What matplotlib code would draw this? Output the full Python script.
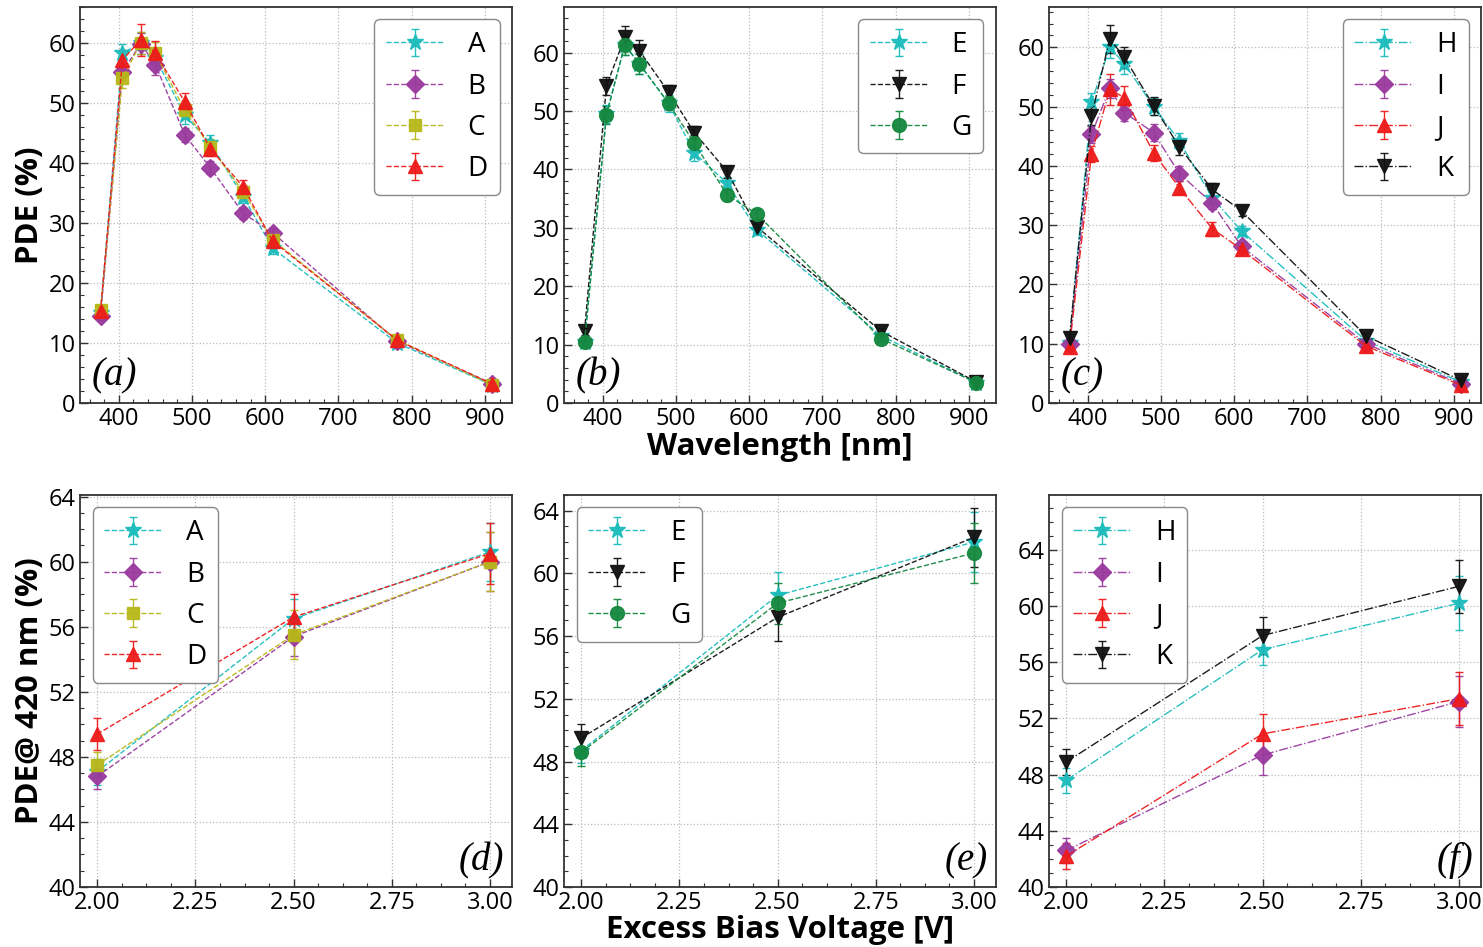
import matplotlib
matplotlib.use("Agg")
import matplotlib.pyplot as plt
from matplotlib.ticker import MultipleLocator, AutoMinorLocator, FormatStrFormatter

plt.rcParams['font.family'] = ['Open Sans', 'DejaVu Sans']

# ---------------- data ----------------
wavelength = [375, 405, 430, 450, 490, 525, 570, 610, 780, 910]

A = [15.0, 58.3, 60.0, 57.5, 48.0, 43.3, 34.4, 25.8, 10.0, 3.0]
B = [14.5, 55.2, 59.9, 56.4, 44.7, 39.2, 31.6, 28.4, 10.3, 3.2]
C = [15.5, 54.1, 60.0, 58.3, 48.8, 42.7, 35.2, 27.2, 10.5, 3.0]
D = [15.3, 57.2, 60.5, 58.3, 50.2, 42.4, 36.0, 27.0, 10.5, 3.2]
A_err = [0.8, 1.6, 1.8, 1.7, 1.5, 1.3, 1.1, 0.9, 0.5, 0.3]
B_err = [0.7, 1.5, 1.8, 1.7, 1.2, 1.1, 0.9, 0.8, 0.5, 0.3]
C_err = [0.8, 1.6, 1.8, 1.8, 1.5, 1.3, 1.1, 0.8, 0.5, 0.3]
D_err = [0.8, 1.6, 2.7, 2.0, 1.5, 1.3, 1.1, 0.8, 0.5, 0.3]

E = [10.5, 49.5, 61.3, 58.0, 51.3, 42.8, 37.6, 29.7, 11.5, 3.5]
F = [12.3, 54.3, 62.6, 60.3, 53.2, 46.3, 39.6, 30.2, 12.3, 3.6]
G = [10.4, 49.3, 61.3, 58.1, 51.3, 44.5, 35.6, 32.4, 11.0, 3.5]
E_err = [0.6, 1.5, 1.8, 1.7, 1.5, 1.3, 1.1, 0.9, 0.5, 0.3]
F_err = [0.6, 1.6, 2.0, 1.8, 1.2, 1.1, 1.0, 0.9, 0.5, 0.3]
G_err = [0.6, 1.5, 1.8, 1.7, 1.2, 1.3, 1.0, 0.9, 0.5, 0.3]

H = [10.2, 50.7, 60.0, 57.2, 50.0, 44.2, 34.6, 29.0, 10.5, 3.5]
I = [10.0, 45.3, 53.1, 49.0, 45.6, 38.7, 33.7, 26.4, 10.0, 3.2]
J = [9.5, 42.0, 52.9, 51.5, 42.2, 36.3, 29.4, 25.9, 9.6, 3.0]
K = [11.0, 48.4, 61.4, 58.3, 50.1, 43.2, 36.0, 32.4, 11.3, 3.8]
H_err = [0.6, 1.6, 1.8, 1.7, 1.5, 1.3, 1.0, 0.9, 0.5, 0.3]
I_err = [0.6, 1.4, 1.6, 1.5, 1.4, 1.2, 1.0, 0.8, 0.5, 0.3]
J_err = [0.6, 1.3, 2.6, 2.0, 1.3, 1.1, 1.2, 0.8, 0.5, 0.3]
K_err = [0.6, 1.5, 2.4, 1.8, 1.5, 1.3, 1.1, 0.9, 0.5, 0.3]

bias = [2.0, 2.5, 3.0]
A_v = [47.1, 56.5, 60.6]
B_v = [46.8, 55.4, 60.0]
C_v = [47.5, 55.5, 60.0]
D_v = [49.4, 56.6, 60.5]
A_verr = [0.8, 1.2, 1.8]
B_verr = [0.8, 1.2, 1.8]
C_verr = [0.8, 1.5, 1.8]
D_verr = [1.0, 1.4, 1.9]

E_v = [48.7, 58.6, 62.0]
F_v = [49.5, 57.2, 62.3]
G_v = [48.6, 58.1, 61.3]
E_verr = [0.8, 1.5, 1.9]
F_verr = [0.9, 1.5, 1.9]
G_verr = [0.9, 1.3, 1.9]

H_v = [47.6, 56.9, 60.2]
I_v = [42.6, 49.4, 53.2]
J_v = [42.2, 50.9, 53.4]
K_v = [48.9, 57.9, 61.4]
H_verr = [0.9, 1.1, 1.9]
I_verr = [0.9, 1.4, 1.8]
J_verr = [0.9, 1.4, 1.9]
K_verr = [0.9, 1.3, 1.9]

labels_abcd = ['A', 'B', 'C', 'D']
labels_efg = ['E', 'F', 'G']
labels_hijk = ['H', 'I', 'J', 'K']

# ---------------- styles ----------------
CYAN = '#1cbcbc'
PURP = '#9a3a9e'
OLIVE = '#b8b81a'
RED = '#ee1b1b'
BLACK = '#111111'
GREEN = '#15883e'

style = {
    'A': (CYAN, '*', 12), 'B': (PURP, 'D', 9), 'C': (OLIVE, 's', 9), 'D': (RED, '^', 10),
    'E': (CYAN, '*', 12), 'F': (BLACK, 'v', 10), 'G': (GREEN, 'o', 10),
    'H': (CYAN, '*', 12), 'I': (PURP, 'D', 9), 'J': (RED, '^', 10), 'K': (BLACK, 'v', 10),
}

W, Hh = 1483, 947
fig = plt.figure(figsize=(W / 100, Hh / 100), dpi=100)

col_left = [80, 564, 1049]
ax_w = 432
top_row = (7, 403)
bot_row = (495, 887)


def make_ax(col, row):
    t, b = row
    return fig.add_axes([col_left[col] / W, (Hh - b) / Hh, ax_w / W, (b - t) / Hh])


def draw(ax, x, series, errs, names, ls):
    for y, e, n in zip(series, errs, names):
        c, m, ms = style[n]
        ax.errorbar(x, y, yerr=e, color=c, marker=m, markersize=ms, ls=ls, lw=1.0,
                    elinewidth=1.0, capsize=3, capthick=1.0, label=n, alpha=0.95)


def finish(ax, panel, top, legloc):
    ax.grid(True, which='major', ls=':', color='#bbbbbb', lw=0.9)
    ax.set_axisbelow(True)
    ax.tick_params(which='both', direction='in', labelsize=17, color='#333333', pad=3)
    ax.tick_params(which='major', length=6, width=1.0)
    ax.tick_params(which='minor', length=3, width=0.8)
    ax.xaxis.set_minor_locator(AutoMinorLocator(5 if top else 4))
    for s in ax.spines.values():
        s.set_color('#333333')
        s.set_linewidth(1.3)
    leg = ax.legend(loc=legloc, fontsize=20, handlelength=2.1, handletextpad=0.85,
                    labelspacing=0.48, borderpad=0.42, framealpha=1.0, fancybox=True,
                    edgecolor='#888888', borderaxespad=0.45)
    leg.get_frame().set_linewidth(1.0)
    if top:
        ax.text(0.027, 0.022, panel, transform=ax.transAxes, ha='left', va='bottom',
                fontsize=28, family='Liberation Serif', style='italic')
    else:
        ax.text(0.982, 0.02, panel, transform=ax.transAxes, ha='right', va='bottom',
                fontsize=28, family='Liberation Serif', style='italic')


# top row
ax_a = make_ax(0, top_row)
draw(ax_a, wavelength, [A, B, C, D], [A_err, B_err, C_err, D_err], labels_abcd, '--')
ax_b = make_ax(1, top_row)
draw(ax_b, wavelength, [E, F, G], [E_err, F_err, G_err], labels_efg, '--')
ax_c = make_ax(2, top_row)
draw(ax_c, wavelength, [H, I, J, K], [H_err, I_err, J_err, K_err], labels_hijk, '-.')

for ax, p, ytop in [(ax_a, '(a)', 66), (ax_b, '(b)', 67.8), (ax_c, '(c)', 66.8)]:
    ax.set_xlim(347, 937)
    ax.set_ylim(0, ytop)
    ax.xaxis.set_major_locator(MultipleLocator(100))
    ax.yaxis.set_major_locator(MultipleLocator(10))
    ax.yaxis.set_minor_locator(AutoMinorLocator(5))
    finish(ax, p, True, 'upper right')

# bottom row
ax_d = make_ax(0, bot_row)
draw(ax_d, bias, [A_v, B_v, C_v, D_v], [A_verr, B_verr, C_verr, D_verr], labels_abcd, '--')
ax_e = make_ax(1, bot_row)
draw(ax_e, bias, [E_v, F_v, G_v], [E_verr, F_verr, G_verr], labels_efg, '--')
ax_f = make_ax(2, bot_row)
draw(ax_f, bias, [H_v, I_v, J_v, K_v], [H_verr, I_verr, J_verr, K_verr], labels_hijk, '-.')

for ax, p, ytop in [(ax_d, '(d)', 64.1), (ax_e, '(e)', 65.0), (ax_f, '(f)', 67.9)]:
    ax.set_xlim(1.956, 3.056)
    ax.set_ylim(40, ytop)
    ax.xaxis.set_major_locator(MultipleLocator(0.25))
    ax.xaxis.set_major_formatter(FormatStrFormatter('%.2f'))
    ax.yaxis.set_major_locator(MultipleLocator(4))
    ax.yaxis.set_minor_locator(AutoMinorLocator(4))
    finish(ax, p, False, 'upper left')

# axis labels placed in figure pixels
lab_kw = dict(fontsize=22.5, fontweight='bold', ha='center', va='center')
fig.text(30 / W, 1 - 205 / Hh, 'PDE (%)', rotation=90, **lab_kw)
fig.text(30 / W, 1 - 691 / Hh, 'PDE@ 420 nm (%)', rotation=90, **lab_kw)
fig.text(780 / W, 1 - 447 / Hh, 'Wavelength [nm]', **lab_kw)
fig.text(780 / W, 1 - 929.5 / Hh, 'Excess Bias Voltage [V]', **lab_kw)

fig.savefig('out.png', dpi=100)
